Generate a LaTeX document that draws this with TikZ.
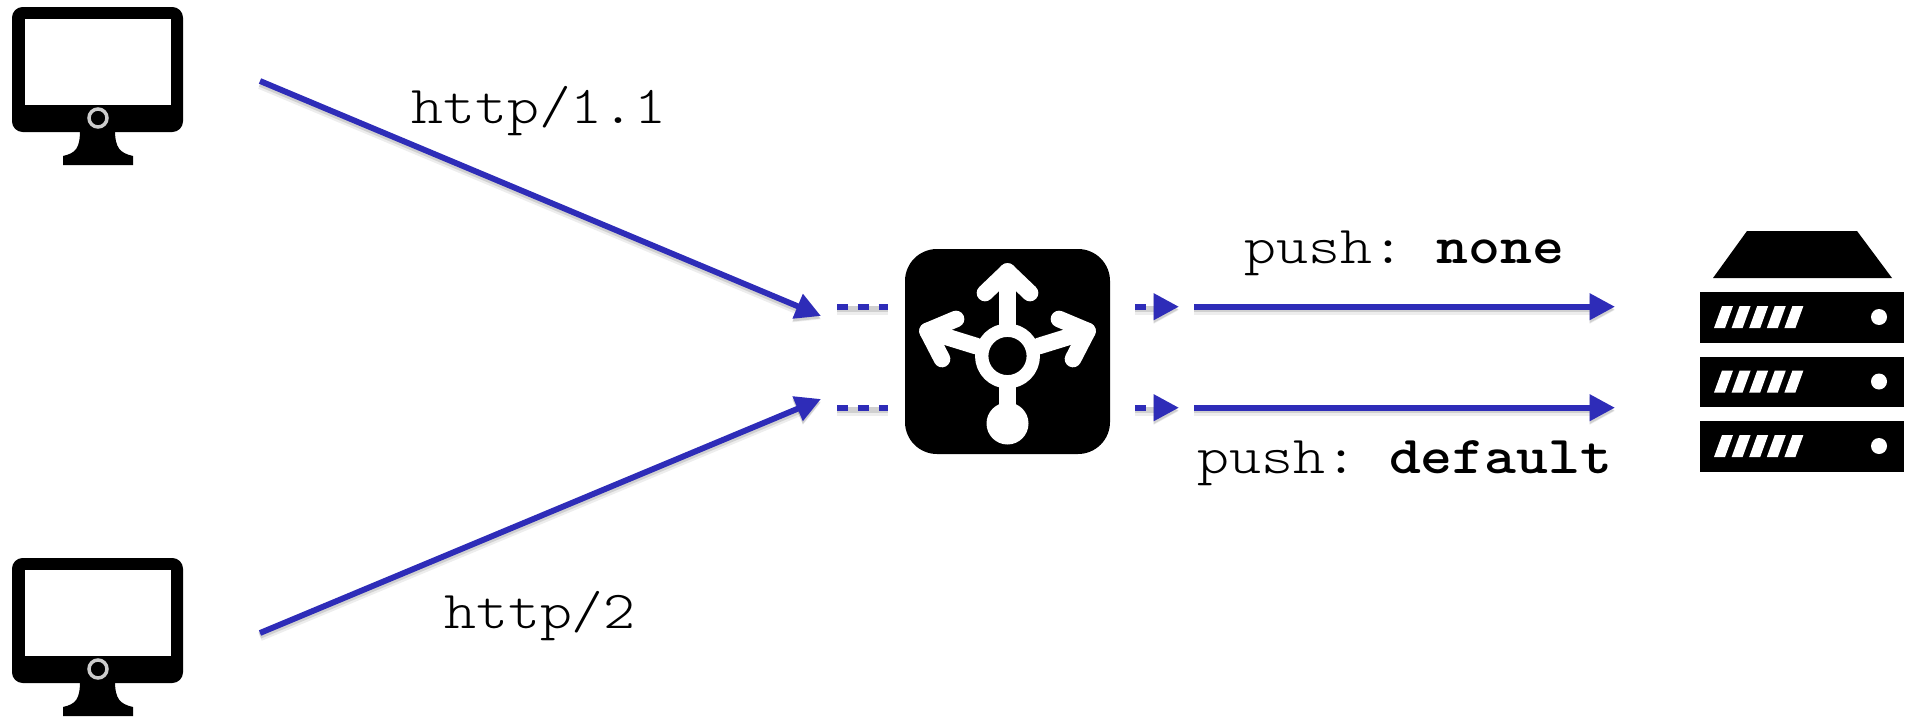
\documentclass[tikz,border=0pt]{standalone}
\usepackage{fontspec}
\setmonofont[FakeStretch=1.14]{Latin Modern Mono Light}
\usetikzlibrary{arrows.meta}
\definecolor{linkblue}{RGB}{46,44,184}
\tikzset{
  shadowed/.style={preaction={draw=black,opacity=0.07,line width=7pt,transform canvas={yshift=-2.6pt}},preaction={draw=black,opacity=0.12,line width=4.6pt,transform canvas={yshift=-2pt}}},
  link/.style={draw=linkblue,line width=4.4pt,shadowed,-{Triangle[length=19pt,width=19pt]}},
  stub/.style={draw=linkblue,line width=4.4pt,shadowed},
  lbl/.style={font=\fontsize{40}{40}\selectfont\ttfamily,anchor=base,inner sep=0pt},
  icon/.style={line width=12.5pt,white,line cap=round,line join=round}
}
\begin{document}
\begin{tikzpicture}[x=0.75pt,y=0.75pt,yscale=-1,xscale=1]
\useasboundingbox (0,0) rectangle (1917,718);

%Monitors
\foreach \dy in {0,551}{
  \begin{scope}[shift={(0,\dy)}]
    \fill [black,rounded corners=8pt] (12,7) rectangle (183,132);
    \fill [white] (25,19) rectangle (171,105);
    \fill [black] (80,130) .. controls (80,148) and (76,153) .. (63,156) -- (63,165) -- (133,165) -- (133,156) .. controls (120,153) and (115,148) .. (115,130) -- cycle;
    \draw [white!80!black,line width=2.6pt] (98,118) circle (9);
  \end{scope}
}

%Router
\node (router) [fill=black,rounded corners=24pt,minimum size=153.75pt,inner sep=0pt] at (1007.5,351.5) {};
\draw [icon,line width=10pt] (1007.5,356) circle (25.8);
\draw [icon] (1007.5,326) -- (1007.5,271.5);
\draw [icon] (985,293) -- (1007.5,271.5) -- (1030,293);
\draw [icon] (976,346) -- (927.5,331);
\draw [icon] (956,319) -- (927.5,331) -- (942,359);
\draw [icon] (1039,346) -- (1087.5,331);
\draw [icon] (1059,319) -- (1087.5,331) -- (1073,359);
\draw [icon] (1007.5,386) -- (1007.5,420);
\fill [white] (1007.5,423.5) circle (21);

%Server
\fill [black] (1747,231) -- (1857,231) -- (1892,278) -- (1713,278) -- cycle;
\foreach \dy in {0,64.5,129}{
  \fill [black] (1700,292+\dy) rectangle (1904,342+\dy+0.5);
  \fill [white] (1879,317+\dy) circle (8);
  \foreach \dx in {0,17.6,35.2,52.8,70.4}{
    \fill [white] (1714+\dx,328+\dy) -- (1725+\dx,328+\dy) -- (1733+\dx,306+\dy) -- (1722+\dx,306+\dy) -- cycle;
  }
}

%Link ends
\coordinate (clientA) at (260,81);
\coordinate (clientB) at (260,633);
\coordinate (inA) at (821,316);
\coordinate (inB) at (821,399);
\coordinate (stubA) at (837,306.7);
\coordinate (stubB) at (837,407.7);
\coordinate (stubAend) at (888,306.7);
\coordinate (stubBend) at (888,407.7);
\coordinate (outA) at (1135,306.7);
\coordinate (outB) at (1135,407.7);
\coordinate (outAend) at (1179,306.7);
\coordinate (outBend) at (1179,407.7);
\coordinate (pushA) at (1194,306.7);
\coordinate (pushB) at (1194,407.7);
\coordinate (serverA) at (1615,306.7);
\coordinate (serverB) at (1615,407.7);

%Links
\draw [link] (clientA) -- (inA);
\draw [link] (clientB) -- (inB);
\draw [stub,dash pattern=on 8pt off 7.7pt] (stubA) -- (stubAend);
\draw [stub,dash pattern=on 8pt off 7.7pt] (stubB) -- (stubBend);
\draw [link,dash pattern=on 8pt off 20pt] (outA) -- (outAend);
\draw [link,dash pattern=on 8pt off 20pt] (outB) -- (outBend);
\draw [link] (pushA) -- (serverA);
\draw [link] (pushB) -- (serverB);

%Labels
\node (labelA) [lbl] at (539,123.5) {http/1.1};
\node (labelB) [lbl] at (540,628) {http/2};
\node (labelC) [lbl] at (1404.5,263) {push: \textbf{none}};
\node (labelD) [lbl] at (1405,473) {push: \textbf{default}};
\end{tikzpicture}
\end{document}
